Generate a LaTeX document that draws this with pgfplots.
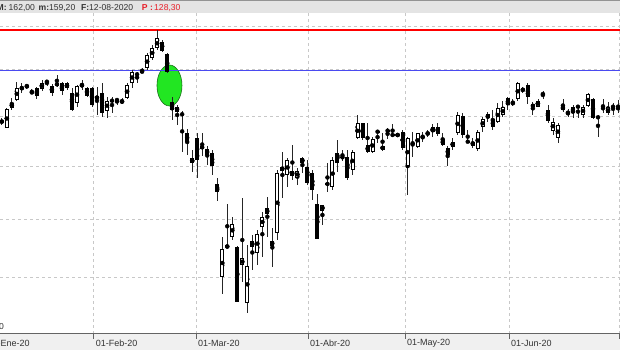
\documentclass[border=0pt]{standalone}
\usepackage{fontspec}
\setmainfont{Liberation Sans}
\usepackage{pgfplots}
\usepackage{pgfplotstable}
\pgfplotsset{compat=1.18}
\definecolor{txt}{HTML}{333333}
\definecolor{axgray}{HTML}{646464}
\definecolor{bandgray}{HTML}{F0F0F0}
\definecolor{topgray}{HTML}{E4E4E4}
\definecolor{gridgray}{HTML}{C8C8C8}
\definecolor{pred}{HTML}{E8202A}
\definecolor{hred}{HTML}{FF0000}
\definecolor{hblue}{HTML}{4A4AF0}
\definecolor{elfill}{HTML}{22E622}
\definecolor{eldraw}{HTML}{1A6E1A}
% candles: trading-day index, open, high, low, close (read as pixel rows of the chart, top = 0)
\pgfplotstableread{
i o h l c
0 121.2 118 125 122.2
1 128 108 128.5 109
2 108.3 98 110 102.7
3 100 81.7 100.7 87.7
4 87.8 83 93 88.8
5 85.5 84 89 86.5
6 91.7 89.3 94.3 93.3
7 88 86.7 99.3 95.7
8 89.3 80 90.7 82.7
9 81.2 80 86 82.2
10 86 84 95.7 93.3
11 82.7 75 86.7 86
12 83.3 81.7 95 90.7
13 88.3 81.7 90 83.3
14 92.7 88.3 110.7 110
15 103.3 85 106.7 86
16 86.7 80 90 84
17 88.3 86.7 96.7 96
18 88.3 87.3 106.7 105
19 99.3 86.7 115 96
20 92.7 83.3 116.7 112.7
21 110.7 96.7 118.3 100.7
22 100.2 97 113 101.2
23 99.5 98 105 100.5
24 103.3 98.3 104 100
25 98.3 83 99 85
26 83.3 70 88.3 71.7
27 73.8 71.7 83.3 74.8
28 71.2 68.3 73.3 72.2
29 68.3 53.3 70 55
30 58.3 45 60 47.7
31 48.3 30.5 50 38.3
32 41.7 40 52.3 51
33 54.3 53.3 73.3 71.7
34 101.7 96.7 120 110
35 106.7 105 125 111.7
36 113.8 111 151.7 114.8
37 133.3 129 155 142.3
38 163.3 150 171.7 158.3
39 138.3 133.3 178.3 160
40 145.7 133.3 155.7 149
41 149 146 165 155
42 152.7 150 175 166
43 184.3 178.3 201 191.7
44 276.7 236.7 294 249.3
45 247.5 204 248.5 245.5
46 236.7 216.7 240 224
47 247.3 246 301.7 301.7
48 265 198.3 281.7 258.3
49 302.7 245 313.3 266
50 247.3 235 270 240.7
51 253.3 230 265 234
52 226.7 211.7 256.7 217.3
53 208.3 196.7 236.7 214
54 240.7 228.3 266.7 246
55 232.7 170 240 172.7
56 170.7 151.7 198.3 166.7
57 175 158.3 186.7 160
58 170.7 145 180 176
59 178.3 168.3 185 170.7
60 162.7 156.7 173.3 158.3
61 167 160 185 183
62 172.7 170 200 190
63 204.3 194.3 239.5 239.3
64 210.7 205 225 205.3
65 183.5 163.3 191.7 184.5
66 187.3 156.7 190 160
67 152.7 140 171.7 162.7
68 156.8 150 160.7 157.8
69 157.3 150 180 178.3
70 170 150 175 151.7
71 138.3 115 139.3 123.3
72 123.3 122.7 140 138.3
73 145 123.3 152.7 152.3
74 151.7 137.3 152.7 139.3
75 131.2 131 143.3 132.2
76 150 132.7 150.7 145.7
77 130.2 128.3 139.3 131.2
78 134.5 124 137.3 135.5
79 136 132.7 137.3 134
80 131.7 130 150 148.3
81 166 137.3 195 138.3
82 142.8 131.7 157.3 143.8
83 147.3 132.7 148 133.3
84 136.8 131.7 141.7 137.8
85 132.8 130 137.3 133.8
86 131.7 124 136.7 127.3
87 126.7 123.3 136 134
88 139.3 132.7 146 145
89 148.3 146 166 155
90 147.3 138.3 150 141.7
91 132.7 111.7 135 115
92 116 113.3 138.3 135
93 141.2 130 143.3 142.2
94 141.7 138.3 148.3 146
95 149.3 130 150.7 131.7
96 127.3 116.7 131.7 119.3
97 114.3 111.7 121.7 118.3
98 119.3 110 130 127.3
99 121.7 103.3 123.3 108.3
100 115 100.7 116.7 107.3
101 98.3 96.7 110 105
102 102.8 99.3 106 103.8
103 99.3 81.7 100.7 83.3
104 89.5 86.7 92.7 90.5
105 85 83.3 104 97.3
106 104.3 101.7 115 107.3
107 106.7 99.3 107.3 100.7
108 93.5 90.7 99.3 94.5
109 110 105 122.7 120.7
110 130.7 118.3 135 121.7
111 138.3 123.3 143.3 125
112 110 99.3 111.7 106
113 112.2 109.3 117.3 113.2
114 107.3 105 118.3 112.7
115 106.2 105 118.3 107.2
116 115 105 118.3 106.7
117 106 93.3 106.7 94
118 99.3 98.3 119.3 118.3
119 116.8 115 136.7 117.8
120 107.8 99.3 113.3 108.8
121 113.3 101.7 115 107.3
122 106.2 102.7 115 107.2
123 107.8 100 113.3 108.8
}\candles
\begin{document}
\begin{tikzpicture}
% top info bar and bottom date band
\fill[topgray] (0pt,321pt) rectangle (620pt,334pt);
\draw[axgray!70, line width=1pt] (0pt,333.5pt) -- (620pt,333.5pt);
\fill[bandgray] (0pt,-16pt) rectangle (620pt,0pt);
\begin{axis}[
  at={(0pt,0pt)}, anchor=south west, scale only axis,
  width=620pt, height=321pt,
  xmin=-0.359, xmax=123.393, ymin=16, ymax=337,
  axis line style={draw=none},
  xtick={18.32,38.76,61.12,80.48,101.24,123.19},
  xticklabels={01-Feb-20,01-Mar-20,01-Abr-20,01-May-20,01-Jun-20,01-Jul-20},
  xtick pos=lower, tick align=outside, major tick length=5pt,
  xtick style={axgray, line width=0.8pt},
  xticklabel style={anchor=west, inner sep=0pt, xshift=2pt, yshift=-4pt,
    font=\fontsize{9}{10}\selectfont, text=txt},
  ytick={73,131,184,234,281,324}, yticklabels={}, ytick style={draw=none},
  grid=major,
  major grid style={gridgray, dash pattern=on 3pt off 3pt, line width=0.6pt},
  clip mode=individual,
]
\draw[eldraw, fill=elfill, line width=0.6pt] (axis cs:33.47,264.5) ellipse [x radius=12.5pt, y radius=20.5pt];
\draw[hred, line width=1.5pt] (axis cs:-1,320) -- (axis cs:124,320);
\draw[hblue, line width=1.1pt] (axis cs:-1,279.5) -- (axis cs:124,279.5);
% wicks
\addplot[only marks, mark=none, forget plot,
  error bars/.cd, y dir=both, y explicit, error mark=none,
  error bar style={draw=black!85, line width=0.75pt}]
  table[x=i, y expr={350-(\thisrow{h}+\thisrow{l})/2},
        y error expr={(\thisrow{l}-\thisrow{h})/2}] {\candles};
% bodies (black outline / fill)
\addplot[only marks, mark=none, forget plot,
  error bars/.cd, y dir=both, y explicit, error mark=none,
  error bar style={draw=black, line width=4pt}]
  table[x=i, y expr={350-(\thisrow{o}+\thisrow{c})/2},
        y error expr={max(abs(\thisrow{o}-\thisrow{c})/2,0.5)}] {\candles};
% white interior of rising candles
\addplot[only marks, mark=none, forget plot, restrict x to domain=-5:130,
  error bars/.cd, y dir=both, y explicit, error mark=none,
  error bar style={draw=white, line width=2pt}]
  table[x expr={ifthenelse(\thisrow{c}<\thisrow{o},\thisrow{i},-50)},
        y expr={350-(\thisrow{o}+\thisrow{c})/2},
        y error expr={max(abs(\thisrow{o}-\thisrow{c})/2-1,0)}] {\candles};
\end{axis}
\draw[axgray, line width=1pt] (0pt,0pt) -- (620pt,0pt);
% texts
\begin{scope}[every node/.style={anchor=base west, inner sep=0pt, font=\fontsize{8.6}{10}\selectfont, text=txt}]
\node[font=\fontsize{8.6}{10}\selectfont\bfseries] at (-3.5pt,323.3pt) {M:};
\node at (8.5pt,323.3pt) {162,00};
\node[font=\fontsize{8.6}{10}\selectfont\bfseries] at (38.5pt,323.3pt) {m:};
\node at (48.8pt,323.3pt) {159,20};
\node[font=\fontsize{8.6}{10}\selectfont\bfseries] at (81pt,323.3pt) {F:};
\node at (89pt,323.3pt) {12-08-2020};
\node[font=\fontsize{8.6}{10}\selectfont\bfseries, text=pred] at (141.7pt,323.3pt) {P :};
\node[text=pred] at (154pt,323.3pt) {128,30};
\node at (-1pt,4pt) {0};
\end{scope}
\node[anchor=west, inner sep=0pt, font=\fontsize{9}{10}\selectfont, text=txt] at (-12.5pt,-9pt) {01-Ene-20};
\pgfresetboundingbox
\useasboundingbox (0pt,-16pt) rectangle (620pt,334pt);
\end{tikzpicture}
\end{document}
